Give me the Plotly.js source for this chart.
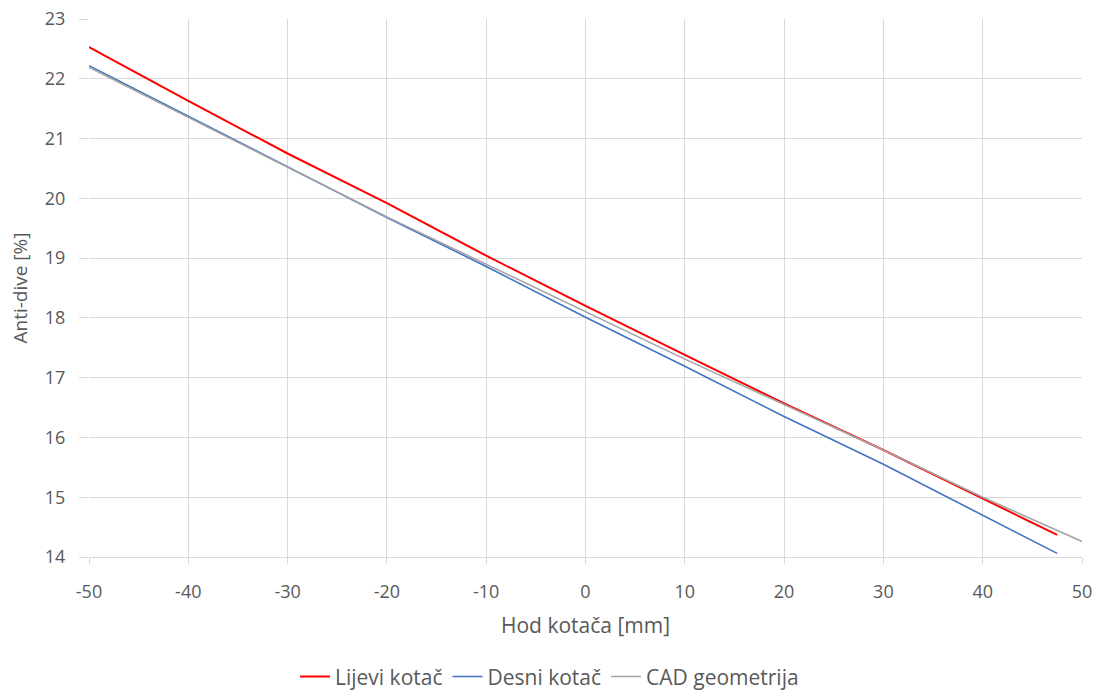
<!DOCTYPE html>
<html>
<head>
<meta charset="utf-8">
<script src="https://cdn.plot.ly/plotly-3.0.1.min.js"></script>
<style>html,body{margin:0;padding:0;background:#fff;}#chart{width:1099px;height:690px;}</style>
</head>
<body>
<div id="chart"></div>
<script>
const xLijevi = [-50, -40, -30, -20, -10, 0, 10, 20, 30, 40, 47.5];
const yLijevi = [22.53, 21.63, 20.75, 19.92, 19.04, 18.20, 17.38, 16.57, 15.79, 14.98, 14.37];
const xDesni = [-50, -40, -30, -20, -10, 0, 10, 20, 30, 40, 47.5];
const yDesni = [22.22, 21.37, 20.52, 19.68, 18.86, 18.01, 17.19, 16.35, 15.55, 14.70, 14.06];
const xCAD = [-50, -40, -30, -20, -10, 0, 10, 20, 30, 40, 50];
const yCAD = [22.19, 21.35, 20.52, 19.69, 18.90, 18.10, 17.31, 16.55, 15.79, 15.00, 14.26];
const seriesNames = ["Lijevi kotač", "Desni kotač", "CAD geometrija"];
const xTickVals = [-50, -40, -30, -20, -10, 0, 10, 20, 30, 40, 50];
const xTickText = ["-50", "-40", "-30", "-20", "-10", "0", "10", "20", "30", "40", "50"];

const font = "'Open Sans', sans-serif";
const txt = "#595959";

const traces = [
  {x: xLijevi, y: yLijevi, name: seriesNames[0], mode: "lines", line: {color: "#ff0000", width: 2}},
  {x: xDesni, y: yDesni, name: seriesNames[1], mode: "lines", line: {color: "#4472c4", width: 1.6}},
  {x: xCAD, y: yCAD, name: seriesNames[2], mode: "lines", line: {color: "#a5a5a5", width: 1.6}}
];

const layout = {
  width: 1099, height: 690,
  margin: {l: 89, r: 17, t: 19, b: 133, autoexpand: false},
  paper_bgcolor: "#fff", plot_bgcolor: "#fff",
  font: {family: font, size: 18, color: txt},
  showlegend: true,
  legend: {orientation: "h", x: 0.5, xanchor: "center", xref: "container",
           y: 0.019, yanchor: "middle", yref: "container",
           font: {family: font, size: 21, color: txt}, itemwidth: 30, traceorder: "normal"},
  xaxis: {
    range: [-50, 50], tickmode: "array", tickvals: xTickVals, ticktext: xTickText,
    showgrid: true, gridcolor: "#d9d9d9", gridwidth: 1,
    zeroline: false, showline: true, linecolor: "#d9d9d9",
    ticks: "outside", ticklen: 6, tickcolor: "#d9d9d9",
    ticklabelstandoff: 12,
    tickfont: {family: font, size: 18, color: txt},
    title: {text: "Hod kotača [mm]", font: {family: font, size: 21, color: txt}, standoff: 16}
  },
  yaxis: {
    range: [14, 23], dtick: 1,
    showgrid: true, gridcolor: "#d9d9d9", gridwidth: 1,
    zeroline: false, showline: false,
    ticks: "outside", ticklen: 9, tickcolor: "#d9d9d9",
    ticklabelstandoff: 10,
    tickfont: {family: font, size: 18, color: txt},
    title: {text: "Anti-dive [%]", font: {family: font, size: 19, color: txt}, standoff: 12}
  }
};

Plotly.newPlot("chart", traces, layout, {displayModeBar: false, staticPlot: true});
</script>
</body>
</html>
